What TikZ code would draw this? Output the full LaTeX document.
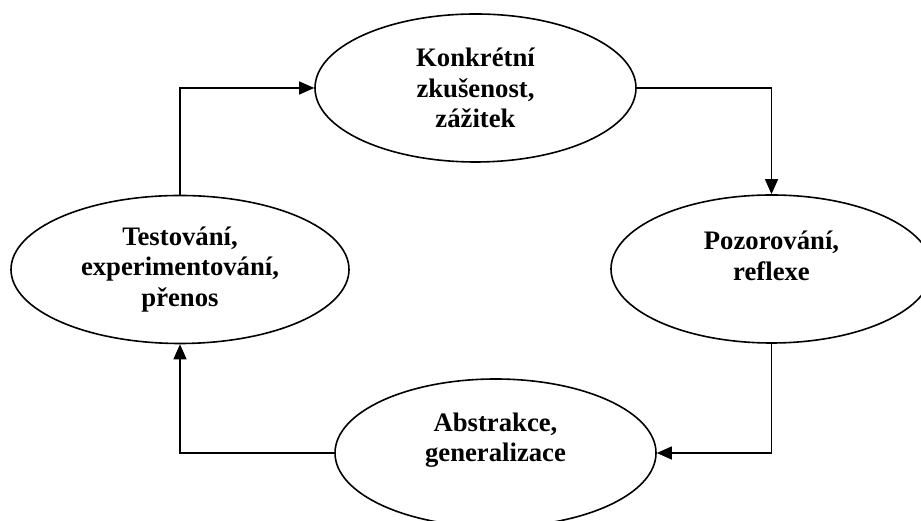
\documentclass[tikz,border=0pt]{standalone}
\usepackage{fontspec}
\setmainfont{Liberation Serif}
\usetikzlibrary{arrows.meta, shapes.geometric}

\begin{document}
\begin{tikzpicture}[x=1pt, y=1pt]
\tikzset{etape/.style={draw, ellipse, line width=1.6pt, minimum width=321pt, minimum height=148pt, align=center, font=\fontsize{26.7}{30.5}\selectfont\bfseries}}
\tikzset{sipka/.style={line width=1.3pt, -{Triangle[length=15pt, width=13pt]}}}
\clip (0, 0) rectangle (921, 521);
\useasboundingbox (0, 0) rectangle (921, 521);
\node[etape] (E1) at (475.5, 433) {Konkrétní\\zkušenost,\\zážitek};
\node[etape, text depth=27pt] (E2) at (771.5, 252) {Pozorování,\\reflexe};
\node[etape, text depth=32pt] (E3) at (495.5, 68) {Abstrakce,\\generalizace};
\node[etape, minimum width=338pt] (E4) at (180, 251.5) {Testování,\\experimentování,\\přenos};
\draw[sipka] (E1.east) -| (E2.north);
\draw[sipka] (E2.south) |- (E3.east);
\draw[sipka] (E3.west) -| (E4.south);
\draw[sipka] (E4.north) |- (E1.west);
\end{tikzpicture}
\end{document}
